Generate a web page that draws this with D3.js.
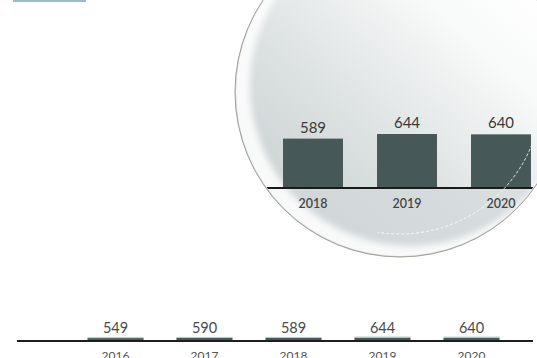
<!DOCTYPE html>
<html>
<head>
<meta charset="utf-8">
<script src="https://cdn.jsdelivr.net/npm/d3@7"></script>
<style>
  html, body { margin: 0; padding: 0; background: #ffffff; }
  svg { display: block; }
  text { font-family: Lato, "Open Sans", sans-serif; }
</style>
</head>
<body>
<svg id="chart" width="537" height="358"></svg>
<script>
// ---- data ----
const years = ["2016", "2017", "2018", "2019", "2020"];
const values = [549, 590, 589, 644, 640];
const zoomYears = ["2018", "2019", "2020"];
const zoomValues = [589, 644, 640];

const W = 537, H = 358;
const svg = d3.select("#chart");
const defs = svg.append("defs");

const barColor = "#465958";

// top-left accent bar
svg.append("rect").attr("x", 13).attr("y", 0).attr("width", 73).attr("height", 2)
  .attr("fill", "#93bccf");

// ---------- bottom full chart ----------
const xB = d3.scaleBand().domain(years).range([71, 516]).paddingInner(0.37).paddingOuter(0.185);
const yB = d3.scaleLinear().domain([0, 644]).range([341, 337.6]);

const gB = svg.append("g");
gB.selectAll("rect.bar").data(years).join("rect")
  .attr("class", "bar")
  .attr("x", d => xB(d))
  .attr("width", xB.bandwidth())
  .attr("y", (d, i) => yB(values[i]))
  .attr("height", (d, i) => yB(0) - yB(values[i]))
  .attr("fill", barColor);
gB.selectAll("line.top").data(years).join("line")
  .attr("class", "top")
  .attr("x1", d => xB(d)).attr("x2", d => xB(d) + xB.bandwidth())
  .attr("y1", (d, i) => yB(values[i]) - 0.5).attr("y2", (d, i) => yB(values[i]) - 0.5)
  .attr("stroke", "#a9cbc2").attr("stroke-width", 1);
gB.append("line").attr("x1", 17).attr("x2", 533).attr("y1", 341).attr("y2", 341)
  .attr("stroke", "#1e1e1e").attr("stroke-width", 2);
gB.selectAll("text.val").data(years).join("text")
  .attr("class", "val")
  .attr("x", d => xB(d) + xB.bandwidth() / 2)
  .attr("y", (d, i) => yB(values[i]) - 5)
  .attr("text-anchor", "middle").attr("font-size", 14.5).attr("fill", "#4a4a4a")
  .text((d, i) => values[i]);
gB.selectAll("text.yr").data(years).join("text")
  .attr("class", "yr")
  .attr("x", d => xB(d) + xB.bandwidth() / 2)
  .attr("y", 359.5)
  .attr("text-anchor", "middle").attr("font-size", 12).attr("fill", "#555")
  .text(d => d);

// ---------- magnifier ----------
const cx = 400, cy = 92, rOuter = 165;

const lensGrad = defs.append("linearGradient").attr("id", "lensGrad")
  .attr("x1", "0").attr("y1", "1").attr("x2", "0.8").attr("y2", "0.1");
lensGrad.append("stop").attr("offset", "0").attr("stop-color", "#c2cacb");
lensGrad.append("stop").attr("offset", "0.45").attr("stop-color", "#dce1e1");
lensGrad.append("stop").attr("offset", "0.8").attr("stop-color", "#f8f9f9");
lensGrad.append("stop").attr("offset", "1").attr("stop-color", "#ffffff");

defs.append("clipPath").attr("id", "lensClip")
  .append("circle").attr("cx", cx).attr("cy", cy).attr("r", rOuter - 1);

const blur = defs.append("filter").attr("id", "soft").attr("x", "-10%").attr("y", "-10%")
  .attr("width", "120%").attr("height", "120%");
blur.append("feGaussianBlur").attr("stdDeviation", 3);

// outer glass
svg.append("circle").attr("cx", cx).attr("cy", cy).attr("r", rOuter)
  .attr("fill", "url(#lensGrad)");

const gZ = svg.append("g").attr("clip-path", "url(#lensClip)");

// lower band below baseline slightly gray
gZ.append("rect").attr("x", 230).attr("y", 189).attr("width", 310).attr("height", 80)
  .attr("fill", "#d3d9da").attr("opacity", 0.7);

// crescent highlight on the left rim
const circlePath = (x, y, r) => `M${x - r},${y}a${r},${r} 0 1,0 ${2 * r},0a${r},${r} 0 1,0 ${-2 * r},0Z`;
gZ.append("path")
  .attr("d", circlePath(cx, cy, rOuter + 6) + circlePath(cx + 10, cy - 6, 160))
  .attr("fill-rule", "evenodd")
  .attr("fill", "#ffffff").attr("opacity", 0.85)
  .attr("filter", "url(#soft)");

const xZ = d3.scaleBand().domain(zoomYears).range([266, 548]).paddingInner(0.362).paddingOuter(0.181);
const yZ = d3.scaleLinear().domain([0, 644]).range([188, 134]);

gZ.selectAll("rect.zbar").data(zoomYears).join("rect")
  .attr("class", "zbar")
  .attr("x", d => xZ(d))
  .attr("width", xZ.bandwidth())
  .attr("y", (d, i) => yZ(zoomValues[i]))
  .attr("height", (d, i) => yZ(0) - yZ(zoomValues[i]))
  .attr("fill", barColor);
gZ.append("line").attr("x1", 230).attr("x2", 548).attr("y1", 188).attr("y2", 188)
  .attr("stroke", "#1a1a1a").attr("stroke-width", 2);
gZ.selectAll("text.zval").data(zoomYears).join("text")
  .attr("class", "zval")
  .attr("x", d => xZ(d) + xZ.bandwidth() / 2)
  .attr("y", (d, i) => yZ(zoomValues[i]) - 6)
  .attr("text-anchor", "middle").attr("font-size", 15).attr("fill", "#3a3a3a")
  .text((d, i) => zoomValues[i]);
gZ.selectAll("text.zyr").data(zoomYears).join("text")
  .attr("class", "zyr")
  .attr("x", d => xZ(d) + xZ.bandwidth() / 2)
  .attr("y", 208)
  .attr("text-anchor", "middle").attr("font-size", 12.5).attr("font-weight", 600).attr("fill", "#454545")
  .text(d => d);

// reflection arc near bottom
gZ.append("path")
  .attr("d", d3.arc()({innerRadius: 142, outerRadius: 142, startAngle: Math.PI * 0.62, endAngle: Math.PI * 1.05}))
  .attr("transform", `translate(${cx},${cy})`)
  .attr("fill", "none").attr("stroke", "#ffffff").attr("stroke-width", 1)
  .attr("stroke-dasharray", "3,2").attr("opacity", 0.5);

// border
svg.append("circle").attr("cx", cx).attr("cy", cy).attr("r", rOuter)
  .attr("fill", "none").attr("stroke", "#a39d95").attr("stroke-width", 1);
</script>
</body>
</html>
